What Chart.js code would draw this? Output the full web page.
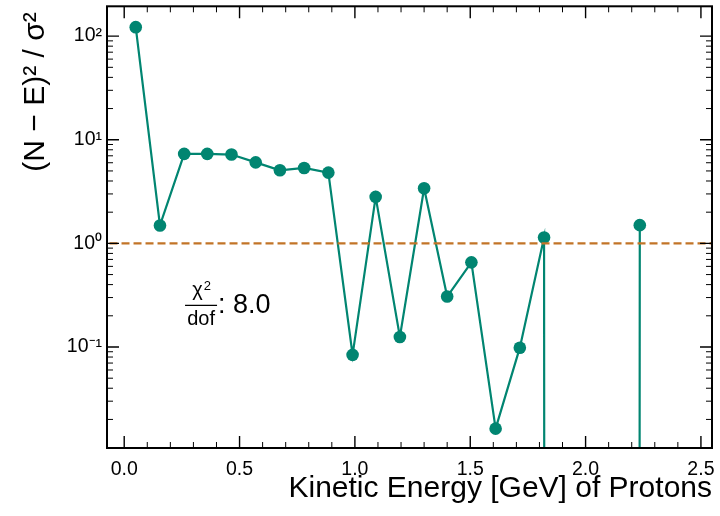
<!DOCTYPE html>
<html>
<head>
<meta charset="utf-8">
<script src="https://cdn.jsdelivr.net/npm/chart.js@4.4.0/dist/chart.umd.min.js"></script>
<style>
  html, body { margin: 0; padding: 0; background: #fff; }
</style>
</head>
<body>
<canvas id="chi2Chart" width="720" height="516"></canvas>
<script>
// bin centres [GeV] and (N-E)^2/sigma^2 per bin
const energies = [0.05, 0.155, 0.26, 0.36, 0.465, 0.57, 0.675, 0.78, 0.885, 0.99, 1.09,
                  1.195, 1.30, 1.40, 1.505, 1.61, 1.715, 1.82, 1.92, 2.025, 2.13, 2.235];
const pulls = [122, 1.49, 7.3, 7.3, 7.2, 6.05, 5.07, 5.34, 4.82, 0.084, 2.81,
               0.125, 3.4, 0.307, 0.656, 0.0163, 0.0985, 1.14, 0, 0, 0, 1.5];
const xTicks = [0, 0.5, 1.0, 1.5, 2.0, 2.5];
const yDecades = [-1, 0, 1, 2];
const chi2PerDof = "8.0";

const FONT = '"Liberation Sans", Arial, sans-serif';
const TEAL = "#018571";
const ORANGE = "#c27427";

const supDigits = { "-": "\u207B", "0": "\u2070", "1": "\u00B9", "2": "\u00B2", "3": "\u00B3" };
function powLabel(d) {
  return "10" + String(d).split("").map(c => supDigits[c]).join("");
}

// log(0) in the original goes to -inf, so the line drops straight down
const points = energies.map((e, i) => ({ x: e, y: pulls[i] > 0 ? pulls[i] : 1e-300 }));

// inward ticks on all four sides, frame, and the chi2/dof note
const frameTicks = {
  id: "frameTicks",
  afterDraw(chart) {
    const { ctx, chartArea: a, scales: { x, y } } = chart;
    ctx.save();
    ctx.strokeStyle = "#000";
    for (let i = -1; i <= 26; i++) {
      const v = i / 10;
      if (v < x.min || v > x.max) continue;
      const px = x.getPixelForValue(v);
      const major = i % 5 === 0;
      const len = major ? 12 : 6;
      ctx.lineWidth = major ? 1.4 : 1;
      ctx.beginPath();
      ctx.moveTo(px, a.bottom); ctx.lineTo(px, a.bottom - len);
      ctx.moveTo(px, a.top); ctx.lineTo(px, a.top + len);
      ctx.stroke();
    }
    for (let d = -3; d <= 3; d++) {
      for (let k = 1; k <= 9; k++) {
        const v = k * Math.pow(10, d);
        if (v < y.min || v > y.max) continue;
        const py = y.getPixelForValue(v);
        const major = k === 1;
        const len = major ? 12 : 6;
        ctx.lineWidth = major ? 1.4 : 1;
        ctx.beginPath();
        ctx.moveTo(a.left, py); ctx.lineTo(a.left + len, py);
        ctx.moveTo(a.right, py); ctx.lineTo(a.right - len, py);
        ctx.stroke();
      }
    }
    ctx.lineWidth = 2;
    ctx.strokeRect(a.left, a.top, a.right - a.left, a.bottom - a.top);

    // chi2 / dof fraction
    const fx = a.left + 0.129 * (a.right - a.left);
    const fy = a.top + 0.677 * (a.bottom - a.top);
    const bw = 32;
    ctx.fillStyle = "#000";
    ctx.textBaseline = "alphabetic";
    ctx.font = "20px " + FONT;
    const chiW = ctx.measureText("\u03C7").width;
    ctx.font = "13px " + FONT;
    const supW = ctx.measureText("2").width;
    let nx = fx + (bw - chiW - supW) / 2;
    ctx.font = "20px " + FONT;
    ctx.textAlign = "left";
    ctx.fillText("\u03C7", nx, fy - 9);
    ctx.font = "13px " + FONT;
    ctx.fillText("2", nx + chiW + 1, fy - 15);
    ctx.font = "20px " + FONT;
    ctx.textAlign = "center";
    ctx.fillText("dof", fx + bw / 2, fy + 20);
    ctx.lineWidth = 1.2;
    ctx.beginPath();
    ctx.moveTo(fx, fy); ctx.lineTo(fx + bw, fy);
    ctx.stroke();
    ctx.font = "27px " + FONT;
    ctx.textAlign = "left";
    ctx.fillText(": " + chi2PerDof, fx + bw + 1, fy + 8);
    ctx.restore();
  }
};

function noPad(s) {
  s.paddingTop = 0; s.paddingBottom = 0; s.paddingLeft = 0; s.paddingRight = 0;
}

const ctx = document.getElementById("chi2Chart").getContext("2d");
new Chart(ctx, {
  type: "line",
  data: {
    datasets: [
      {
        label: "(N-E)^2/sigma^2",
        data: points,
        borderColor: TEAL,
        backgroundColor: TEAL,
        borderWidth: 2.2,
        pointRadius: 6.3,
        pointBorderWidth: 0,
        tension: 0,
        order: 2
      },
      {
        label: "unity",
        data: [{ x: -1, y: 1 }, { x: 4, y: 1 }],
        borderColor: ORANGE,
        borderWidth: 2.2,
        borderDash: [8, 4],
        pointRadius: 0,
        order: 1
      }
    ]
  },
  options: {
    responsive: false,
    animation: false,
    layout: { padding: { left: 0, right: 8, top: 5, bottom: 0 } },
    plugins: { legend: { display: false }, tooltip: { enabled: false } },
    scales: {
      x: {
        type: "linear",
        min: -0.0746,
        max: 2.548,
        grid: { display: false, drawTicks: false, tickLength: 0 },
        border: { display: false },
        afterBuildTicks: s => { s.ticks = xTicks.map(v => ({ value: v })); },
        afterFit: s => { s.height = 68; noPad(s); },
        ticks: {
          autoSkip: false,
          maxRotation: 0,
          padding: 10,
          color: "#000",
          font: { family: FONT, size: 19.5 },
          callback: v => v.toFixed(1)
        },
        title: {
          display: true,
          text: "Kinetic Energy [GeV] of Protons",
          align: "end",
          color: "#000",
          font: { family: FONT, size: 30 },
          padding: { top: 0, bottom: 9 }
        }
      },
      y: {
        type: "logarithmic",
        min: 0.0106,
        max: 194,
        grid: { display: false, drawTicks: false, tickLength: 0 },
        border: { display: false },
        afterBuildTicks: s => { s.ticks = yDecades.map(d => ({ value: Math.pow(10, d) })); },
        afterFit: s => { s.width = 107; noPad(s); },
        ticks: {
          autoSkip: false,
          padding: 5,
          color: "#000",
          font: { family: FONT, size: 19.5 },
          callback: v => powLabel(Math.round(Math.log10(v)))
        },
        title: {
          display: true,
          text: "(N \u2212 E)\u00B2 / \u03C3\u00B2\u2009",
          align: "end",
          color: "#000",
          font: { family: FONT, size: 30 },
          padding: { top: 18, bottom: 0 }
        }
      }
    }
  },
  plugins: [frameTicks]
});
</script>
</body>
</html>
